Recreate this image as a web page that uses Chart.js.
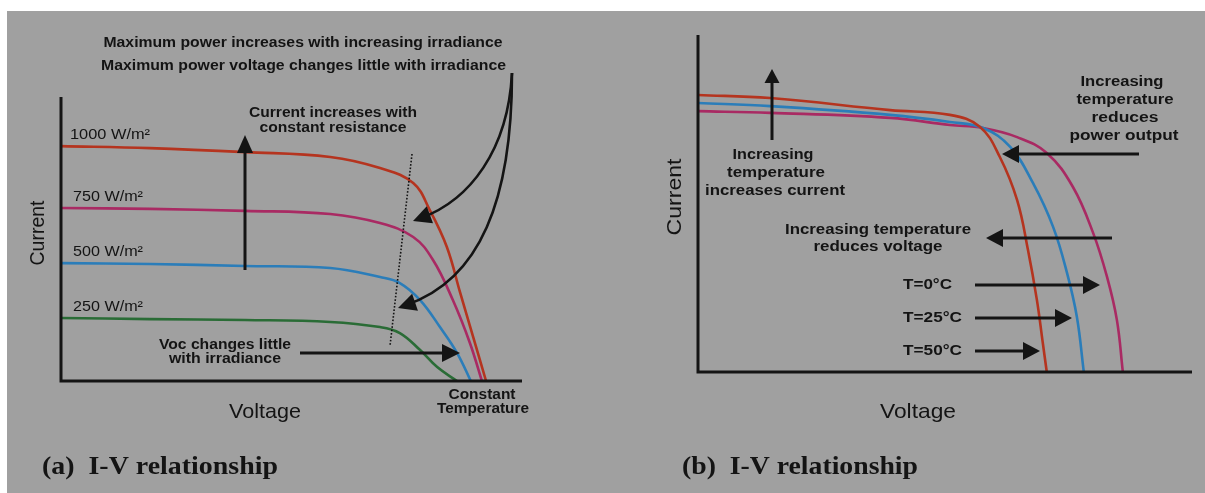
<!DOCTYPE html>
<html lang="en">
<head>
<meta charset="UTF-8" />
<title>I-V relationship</title>
<script src="https://cdn.jsdelivr.net/npm/chart.js"></script>
<style>
  body { margin: 0; background: #fff; }
  .sheet { position: relative; width: 1205px; height: 493px; overflow: hidden; }
  .bg { position: absolute; left: 7px; top: 11px; right: 0; bottom: 0; background: #a0a0a0; }
  canvas { position: absolute; left: 0; top: 0; }
</style>
</head>
<body>
<div class="sheet">
  <div class="bg"></div>
  <canvas id="chartA" width="1205" height="493"></canvas>
  <canvas id="chartB" width="1205" height="493"></canvas>
</div>
<script>
// (a) irradiance curves - voltage / current as % of the axis length
const aV1000 = [0, 19.3, 39.9, 58.4, 69.2, 76.4, 80.0, 83.7, 86.6, 89.4, 92.2];
const aI1000 = [82.7, 82.0, 80.6, 78.9, 75.0, 69.7, 60.2, 47.2, 31.0, 15.5, 0];
const aV750 = [0, 19.3, 39.9, 58.4, 69.2, 76.4, 80.7, 85.0, 88.7, 91.3];
const aI750 = [60.9, 60.6, 59.9, 58.8, 55.6, 50.7, 42.6, 28.5, 13.4, 0];
const aV500 = [0, 19.3, 39.9, 58.4, 69.2, 73.5, 77.9, 82.2, 85.9, 88.9];
const aI500 = [41.5, 41.2, 40.5, 39.8, 36.6, 34.5, 28.5, 19.0, 9.9, 0];
const aV250 = [0, 19.3, 39.9, 58.4, 69.2, 73.5, 77.9, 81.6, 85.9];
const aI250 = [22.2, 21.8, 21.5, 20.8, 19.0, 16.9, 10.9, 4.9, 0];
const aLabels = ["1000 W/m²", "750 W/m²", "500 W/m²", "250 W/m²"];

// (b) temperature curves
const bV0 = [0, 14.6, 38.9, 51.0, 57.7, 64.6, 70.6, 75.9, 80.0, 82.8, 84.8, 86.0];
const bI0 = [77.4, 76.9, 75.4, 73.3, 72.4, 69.7, 65.0, 54.9, 41.2, 28.2, 15.4, 0];
const bV25 = [0, 14.6, 38.9, 51.0, 57.7, 63.2, 67.8, 71.9, 74.7, 76.7, 78.1];
const bI25 = [79.8, 78.9, 76.3, 74.2, 72.4, 66.8, 56.1, 43.0, 29.4, 16.3, 0];
const bV50 = [0, 14.6, 38.9, 51.0, 57.1, 61.1, 64.6, 66.8, 68.6, 69.8, 70.6];
const bI50 = [82.2, 81.3, 77.7, 76.3, 72.7, 63.8, 51.0, 36.2, 21.4, 8.6, 0];
const bLabels = ["T=0°C", "T=25°C", "T=50°C"];

const INK = "#141414";
const RED = "#b5341f";
const MAG = "#a92a63";
const BLUE = "#2b7db9";
const GREEN = "#2a6c36";
const BOLD = 'bold 14px "Liberation Sans", Arial, sans-serif';
const REG = '14px "Liberation Sans", Arial, sans-serif';
const AXT = '21px "Liberation Sans", Arial, sans-serif';
const CAP = 'bold 26px "Liberation Serif", "Times New Roman", serif';

function pts(vs, is) {
  return vs.map((v, i) => ({ x: v, y: is[i] }));
}

function curve(vs, is, color) {
  return {
    data: pts(vs, is),
    borderColor: color,
    borderWidth: 2.6,
    pointRadius: 0,
    showLine: true,
    tension: 0.4,
    clip: false,
  };
}

function label(ctx, s, x, y, font, w, align, rot) {
  ctx.save();
  ctx.font = font;
  ctx.fillStyle = INK;
  ctx.textAlign = align || "center";
  ctx.textBaseline = "middle";
  ctx.translate(x, y);
  if (rot) ctx.rotate(rot);
  if (w) ctx.scale(w / ctx.measureText(s).width, 1);
  ctx.fillText(s, 0, 0);
  ctx.restore();
}

function head(ctx, x, y, ang, hl, hw) {
  ctx.beginPath();
  ctx.moveTo(x, y);
  ctx.lineTo(x - hl * Math.cos(ang) + hw * Math.sin(ang), y - hl * Math.sin(ang) - hw * Math.cos(ang));
  ctx.lineTo(x - hl * Math.cos(ang) - hw * Math.sin(ang), y - hl * Math.sin(ang) + hw * Math.cos(ang));
  ctx.closePath();
  ctx.fill();
}

function arrow(ctx, x1, y1, x2, y2, hl, hw) {
  hl = hl || 17; hw = hw || 8;
  const ang = Math.atan2(y2 - y1, x2 - x1);
  ctx.beginPath();
  ctx.moveTo(x1, y1);
  ctx.lineTo(x2 - hl * 0.8 * Math.cos(ang), y2 - hl * 0.8 * Math.sin(ang));
  ctx.stroke();
  head(ctx, x2, y2, ang, hl, hw);
}

function bentArrow(ctx, p0, c1, c2, p3) {
  ctx.beginPath();
  ctx.moveTo(p0[0], p0[1]);
  ctx.bezierCurveTo(c1[0], c1[1], c2[0], c2[1], p3[0] + 8, p3[1] - 3);
  ctx.stroke();
  head(ctx, p3[0], p3[1], Math.atan2(p3[1] - c2[1], p3[0] - c2[0]), 18, 9);
}

function sketch(marks) {
  return {
    id: "sketch",
    afterDatasetsDraw(chart) {
      const ctx = chart.ctx;
      const a = chart.chartArea;
      ctx.save();
      ctx.strokeStyle = INK;
      ctx.fillStyle = INK;
      ctx.lineWidth = 3;
      ctx.beginPath();
      ctx.moveTo(a.left, a.top);
      ctx.lineTo(a.left, a.bottom);
      ctx.lineTo(a.right, a.bottom);
      ctx.stroke();
      marks(ctx, chart);
      ctx.restore();
    },
  };
}

function baseOptions(pad) {
  return {
    responsive: false,
    animation: false,
    layout: { padding: pad },
    plugins: { legend: { display: false }, tooltip: { enabled: false } },
    scales: {
      x: { type: "linear", min: 0, max: 100, display: false },
      y: { type: "linear", min: 0, max: 100, display: false },
    },
  };
}

// Panel (a)
new Chart(document.getElementById("chartA"), {
  type: "scatter",
  data: {
    datasets: [
      curve(aV250, aI250, GREEN),
      curve(aV500, aI500, BLUE),
      curve(aV750, aI750, MAG),
      curve(aV1000, aI1000, RED),
    ],
  },
  options: baseOptions({ left: 61, top: 97, right: 683, bottom: 112 }),
  plugins: [sketch(function (ctx, chart) {
    const y = chart.scales.y;
    const starts = [aI1000[0], aI750[0], aI500[0], aI250[0]];
    aLabels.forEach((s, i) => {
      label(ctx, s, i === 0 ? 70 : 73, y.getPixelForValue(starts[i]) - 11, REG, i === 0 ? 80 : 70, "left");
    });
    label(ctx, "Maximum power increases with increasing irradiance", 303, 43, BOLD, 399);
    label(ctx, "Maximum power voltage changes little with irradiance", 303.5, 66, BOLD, 405);
    label(ctx, "Current increases with", 333, 113, BOLD, 168);
    label(ctx, "constant resistance", 333, 128, BOLD, 147);
    label(ctx, "Voc changes little", 225, 345, BOLD, 132);
    label(ctx, "with irradiance", 225, 359, BOLD, 112);
    label(ctx, "Constant", 482, 395, BOLD, 67);
    label(ctx, "Temperature", 483, 409, BOLD, 92);
    label(ctx, "Voltage", 265, 412, AXT, 72);
    label(ctx, "Current", 38, 233, AXT, 65, "center", -Math.PI / 2);
    label(ctx, "(a)  I-V relationship", 42, 467, CAP, 236, "left");

    ctx.lineWidth = 3;
    arrow(ctx, 245, 270, 245, 135, 18, 8);
    arrow(ctx, 300, 353, 460, 353, 18, 9);
    ctx.lineWidth = 2.6;
    bentArrow(ctx, [512, 73], [508, 150], [470, 200], [413, 221]);
    bentArrow(ctx, [512, 73], [512, 200], [480, 280], [398, 308]);

    ctx.lineWidth = 1.6;
    ctx.setLineDash([1.6, 1.8]);
    ctx.beginPath();
    ctx.moveTo(412, 154);
    ctx.lineTo(390, 346);
    ctx.stroke();
    ctx.setLineDash([]);
  })],
});

// Panel (b)
new Chart(document.getElementById("chartB"), {
  type: "scatter",
  data: {
    datasets: [
      curve(bV50, bI50, RED),
      curve(bV25, bI25, BLUE),
      curve(bV0, bI0, MAG),
    ],
  },
  options: baseOptions({ left: 698, top: 35, right: 13, bottom: 121 }),
  plugins: [sketch(function (ctx) {
    label(ctx, "Increasing", 773, 155, BOLD, 81);
    label(ctx, "temperature", 776, 173, BOLD, 98);
    label(ctx, "increases current", 775, 191, BOLD, 140);
    label(ctx, "Increasing", 1122, 82, BOLD, 83);
    label(ctx, "temperature", 1125, 100, BOLD, 97);
    label(ctx, "reduces", 1125, 118, BOLD, 67);
    label(ctx, "power output", 1124, 136, BOLD, 109);
    label(ctx, "Increasing temperature", 878, 230, BOLD, 186);
    label(ctx, "reduces voltage", 878, 247, BOLD, 129);
    const ty = [285, 318, 351];
    const tipX = [1100, 1072, 1040];
    bLabels.forEach((s, i) => {
      label(ctx, s, 903, ty[i], BOLD, i === 0 ? 49 : 59, "left");
    });
    label(ctx, "Voltage", 918, 412, AXT, 76);
    label(ctx, "Current", 675, 197, AXT, 77, "center", -Math.PI / 2);
    label(ctx, "(b)  I-V relationship", 682, 467, CAP, 236, "left");

    ctx.lineWidth = 3;
    arrow(ctx, 772, 140, 772, 69, 14, 7.5);
    arrow(ctx, 1139, 154, 1002, 154, 17, 9);
    arrow(ctx, 1112, 238, 986, 238, 17, 9);
    ty.forEach((yy, i) => arrow(ctx, 975, yy, tipX[i], yy, 17, 9));
  })],
});
</script>
</body>
</html>
